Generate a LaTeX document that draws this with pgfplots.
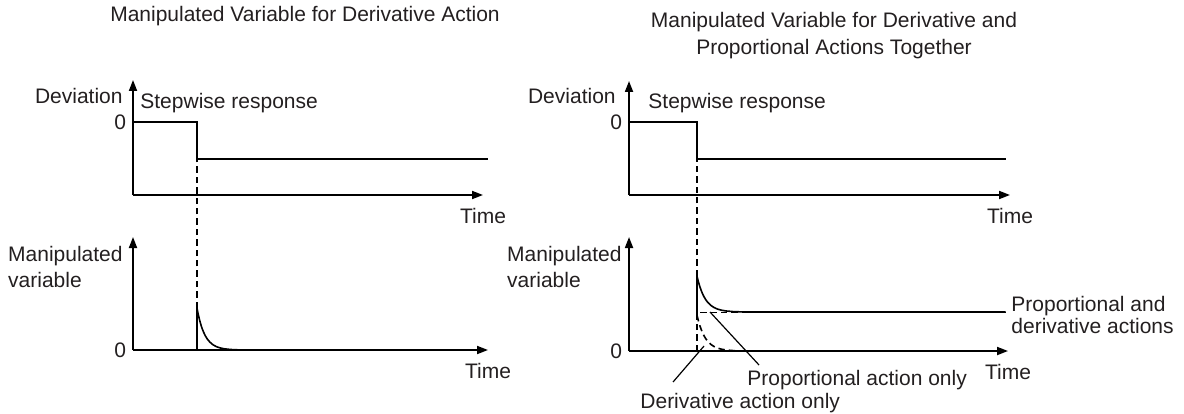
\documentclass[border=0pt]{standalone}
\usepackage{fontspec}
\setmainfont{Liberation Sans}
\usepackage{pgfplots}
\pgfplotsset{compat=1.18}
\usetikzlibrary{arrows.meta}
\definecolor{txt}{HTML}{231F20}
\newcommand{\lbl}{\fontsize{10.5bp}{13bp}\selectfont}

\pgfplotsset{
  resp/.style={
    scale only axis, axis lines=left, clip=false,
    axis line style={line width=0.9bp, -{Triangle[length=5.5bp,width=4bp]}},
    xtick=\empty, ytick={0}, yticklabels={0},
    major tick length=0pt,
    xmin=0,
    tick label style={font=\lbl, text=txt},
    every axis x label/.style={at={(rel axis cs:1,0)}, anchor=center,
      xshift=0bp, yshift=-10.5bp, font=\lbl, text=txt},
    every axis y label/.style={at={(rel axis cs:0,1)}, anchor=east,
      align=left, inner sep=0pt, font=\lbl, text=txt},
    xlabel={Time},
  },
  curve/.style={black, line width=0.9bp},
  guide/.style={black, line width=0.9bp, dash pattern=on 3.2bp off 2bp},
}

\begin{document}
\begin{tikzpicture}[x=0.5bp, y=-0.5bp]
\path[use as bounding box] (0,0) rectangle (1184,414);

% ---- left: derivative action only ----
\begin{axis}[resp, at={(66.5bp,-97.5bp)}, anchor=south west,
    width=175bp, height=57.5bp, xmax=5.469, ymin=-1.973, ymax=1.135,
    ylabel={Deviation}, ylabel style={xshift=-5bp, yshift=-8bp}]
\addplot[curve] coordinates {(0,0) (1,0) (1,-1) (5.55,-1)};
\end{axis}

\begin{axis}[resp, at={(66.5bp,-175bp)}, anchor=south west,
    width=177.5bp, height=56.5bp, xmax=5.547, ymin=0, ymax=2.974,
    ylabel={Manipulated\\variable}, ylabel style={xshift=-5bp, yshift=-15bp}]
\addplot[guide] coordinates {(1,1.105) (1,5.026)};
\addplot[curve] coordinates {(0,0) (1,0) (1,1.105)};
\addplot[curve, line width=0.8bp] coordinates {
  (1.00,1.105) (1.01,1.017) (1.02,0.935) (1.04,0.792) (1.06,0.670)
  (1.08,0.567) (1.10,0.480) (1.13,0.374) (1.16,0.291) (1.20,0.209)
  (1.25,0.138) (1.30,0.091) (1.36,0.055) (1.43,0.031) (1.52,0.014)
  (1.62,0.006) (1.75,0) (5.40,0)};
\end{axis}

% ---- right: derivative and proportional actions ----
\begin{axis}[resp, at={(314.5bp,-97.5bp)}, anchor=south west,
    width=190.5bp, height=57bp, xmax=5.603, ymin=-1.973, ymax=1.108,
    ylabel={Deviation}, ylabel style={xshift=-6.5bp, yshift=-7.5bp}]
\addplot[curve] coordinates {(0,0) (1,0) (1,-1) (5.54,-1)};
\end{axis}

\begin{axis}[resp, at={(314.5bp,-175.5bp)}, anchor=south west,
    width=189.5bp, height=57bp, xmax=5.574, ymin=0, ymax=2.923,
    ylabel={Manipulated\\variable}, ylabel style={xshift=-3.5bp, yshift=-14.75bp}]
\addplot[guide] coordinates {(1,1.92) (1,4.923)};
% proportional action only
\addplot[guide, line width=0.8bp] coordinates {(1,0) (1,0.985) (5.54,0.985)};
% derivative action only
\addplot[guide, line width=0.8bp] coordinates {
  (1.00,0.920) (1.01,0.846) (1.02,0.778) (1.04,0.659) (1.06,0.558)
  (1.08,0.472) (1.10,0.400) (1.13,0.311) (1.16,0.243) (1.20,0.174)
  (1.25,0.115) (1.30,0.076) (1.36,0.046) (1.43,0.026) (1.52,0.012)
  (1.62,0.005) (1.75,0)};
% proportional and derivative actions
\addplot[curve] coordinates {(1,0.985) (1,1.92)};
\addplot[curve, line width=0.8bp] coordinates {
  (1.00,1.920) (1.01,1.846) (1.02,1.778) (1.04,1.659) (1.06,1.558)
  (1.08,1.472) (1.10,1.400) (1.13,1.311) (1.16,1.243) (1.20,1.174)
  (1.25,1.115) (1.30,1.076) (1.36,1.046) (1.43,1.026) (1.52,1.012)
  (1.62,1.005) (1.75,1.0) (5.54,1.0)};
\draw[line width=0.6bp] (axis cs:1.191,1.0) -- (axis cs:1.912,-0.359);
\draw[line width=0.6bp] (axis cs:1.103,0.128) -- (axis cs:0.647,-0.795);
\end{axis}

% ---- titles and annotations ----
\begin{scope}[every node/.style={font=\lbl, text=txt, inner sep=0pt}]
\node at (305,16) {Manipulated Variable for Derivative Action};
\node[align=center, font=\fontsize{10.5bp}{13.8bp}\selectfont] at (834,35.5)
  {Manipulated Variable for Derivative and\\Proportional Actions Together};
\node[anchor=west] at (140,103) {Stepwise response};
\node[anchor=west] at (648,103) {Stepwise response};
\node[anchor=west, align=left, font=\fontsize{10.5bp}{11bp}\selectfont] at (1011,314.5)
  {Proportional and\\derivative actions};
\node[anchor=west] at (747,380) {Proportional action only};
\node[anchor=west] at (640,403) {Derivative action only};
\end{scope}
\end{tikzpicture}
\end{document}
